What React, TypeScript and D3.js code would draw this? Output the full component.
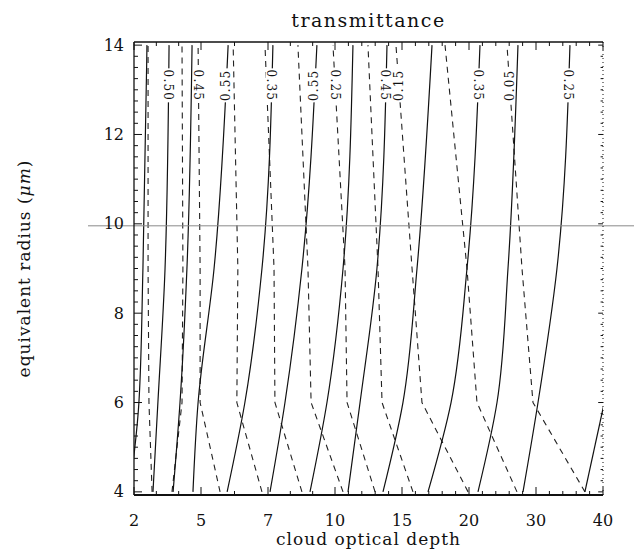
import React, { useEffect, useRef } from 'react';
import * as d3 from 'd3';

const radii = [4, 6, 9, 14];

// cloud optical depth of every solid contour at those radii (null = off the chart)
const solidDepths: (number | null)[][] = [
	[1.8, 2.22, 2.4, 2.58],
	[2.85, 3.07, 3.39, 3.57],
	[3.75, 4.06, 4.37, 4.6],
	[4.64, 4.87, 5.39, 5.81],
	[5.78, 6.31, 6.82, 7.22],
	[7.09, 7.76, 8.52, 9.19],
	[8.88, 9.64, 10.6, 11.34],
	[10.97, 11.87, 13.13, 13.88],
	[13.58, 15.07, 16.12, 17.24],
	[16.94, 18.66, 19.85, 21.64],
	[21.34, 24.18, 25.82, 27.31],
	[28.06, 30.3, 33.13, 35.07],
	[37.3, 40.2, null, null],
];

// same for the dashed contours
const dashedDepths: number[][] = [
	[2.81, 2.67, 2.63, 2.63],
	[3.7, 4.15, 4.19, 4.15],
	[5.57, 4.96, 4.96, 4.87],
	[6.82, 6.07, 6.1, 5.96],
	[8.52, 7.31, 7.27, 6.91],
	[10.6, 8.93, 8.79, 8.34],
	[12.99, 10.9, 10.75, 9.91],
	[15.82, 13.51, 13.21, 12.46],
	[19.93, 16.49, 15.75, 14.55],
	[27.16, 21.19, 19.85, 18.21],
	[37.31, 29.55, 27.91, 25.67],
];

// contour labels near the top
const labelTexts = ['0.50', '0.45', '0.55', '0.35', '0.55', '0.25', '0.45', '0.15', '0.35', '0.05', '0.25'];
const labelStyles = ['solid', 'dashed', 'solid', 'solid', 'solid', 'dashed', 'solid', 'dashed', 'solid', 'dashed', 'solid'];
const labelLines = [1, 2, 3, 4, 5, 6, 7, 8, 9, 10, 11];
const labelTurns = [90, 90, -90, 90, -90, 90, 90, -90, 90, -90, 90];
const labelRadius = 13.1;

const xTicks = [2, 5, 7, 10, 15, 20, 30, 40];
const xMinor = [3, 4, 6, 8, 9, 11, 12, 13, 14, 16, 17, 18, 19, 22, 24, 26, 28, 32, 34, 36, 38];
const yTicks = [4, 6, 8, 10, 12, 14];
const yDomain = [3.93, 14.07];
const markedRadius = 10;

const W = 634;
const H = 550;
const frame = { left: 134, right: 603, top: 42, bottom: 495 };
const serif = '"DejaVu Serif", "Liberation Serif", serif';

const App = () => {
	const ref = useRef<SVGSVGElement>(null);

	useEffect(() => {
		const svg = d3.select(ref.current);
		svg.selectAll('*').remove();

		const step = (frame.right - frame.left) / (xTicks.length - 1);
		const x = d3
			.scaleLinear()
			.domain(xTicks)
			.range(xTicks.map((_, i) => frame.left + i * step));
		const y = d3.scaleLinear().domain(yDomain).range([frame.bottom, frame.top]);

		svg
			.append('clipPath')
			.attr('id', 'plot-clip')
			.append('rect')
			.attr('x', frame.left)
			.attr('y', frame.top)
			.attr('width', frame.right - frame.left)
			.attr('height', frame.bottom - frame.top);

		const line = d3
			.line<[number, number | null]>()
			.defined((d) => d[1] != null)
			.x((d) => x(d[1] as number))
			.y((d) => y(d[0]));

		// solids bend smoothly, so top-down points through a monotone curve
		const smooth = d3
			.line<[number, number | null]>()
			.defined((d) => d[1] != null)
			.curve(d3.curveMonotoneY)
			.x((d) => x(d[1] as number))
			.y((d) => y(d[0]));

		const plot = svg.append('g').attr('clip-path', 'url(#plot-clip)');

		plot
			.selectAll('path.dashed')
			.data(dashedDepths)
			.enter()
			.append('path')
			.attr('class', 'dashed')
			.attr('d', (row) => line(radii.map((r, i) => [r, row[i]])))
			.attr('fill', 'none')
			.attr('stroke', '#222')
			.attr('stroke-width', 1.1)
			.attr('stroke-dasharray', '6,5');

		plot
			.selectAll('path.solid')
			.data(solidDepths)
			.enter()
			.append('path')
			.attr('class', 'solid')
			.attr('d', (row) =>
				smooth(
					radii
						.map((r, i) => [r, row[i]] as [number, number | null])
						.reverse()
				)
			)
			.attr('fill', 'none')
			.attr('stroke', '#111')
			.attr('stroke-width', 1.2);

		// horizontal reference line at 10 um
		svg
			.append('line')
			.attr('x1', 88)
			.attr('x2', W)
			.attr('y1', y(markedRadius) + 2)
			.attr('y2', y(markedRadius) + 2)
			.attr('stroke', '#8a8a8a')
			.attr('stroke-width', 1);

		// contour labels
		const labelX = (i: number) => {
			const row = labelStyles[i] === 'solid' ? solidDepths[labelLines[i]] : dashedDepths[labelLines[i]];
			const x9 = x(row[2] as number);
			const x14 = x(row[3] as number);
			return x9 + ((x14 - x9) * (labelRadius - 9)) / 5;
		};
		const labels = svg
			.selectAll('g.clabel')
			.data(labelTexts)
			.enter()
			.append('g')
			.attr('class', 'clabel')
			.attr('transform', (_, i) => `translate(${labelX(i)},${y(labelRadius)}) rotate(${labelTurns[i]})`);
		labels
			.append('rect')
			.attr('x', -17)
			.attr('y', -5)
			.attr('width', 34)
			.attr('height', 10)
			.attr('fill', '#fff');
		labels
			.append('text')
			.attr('text-anchor', 'middle')
			.attr('dominant-baseline', 'central')
			.attr('font-family', serif)
			.attr('font-size', 12)
			.attr('letter-spacing', 1.2)
			.attr('fill', '#111')
			.text((d) => d);

		// frame
		const axis = svg.append('g').attr('stroke', '#111');
		axis.append('line').attr('x1', frame.left).attr('x2', frame.right).attr('y1', frame.top).attr('y2', frame.top).attr('stroke-width', 1.3);
		axis.append('line').attr('x1', frame.left).attr('x2', frame.right).attr('y1', frame.bottom).attr('y2', frame.bottom).attr('stroke-width', 1.8);
		axis.append('line').attr('x1', frame.left).attr('x2', frame.left).attr('y1', frame.top).attr('y2', frame.bottom).attr('stroke-width', 1.3);
		axis
			.append('line')
			.attr('x1', frame.right)
			.attr('x2', frame.right)
			.attr('y1', frame.top)
			.attr('y2', frame.bottom)
			.attr('stroke-width', 1)
			.attr('stroke-dasharray', '1,3');

		const yMinor = d3.range(4, 14.01, 0.25).filter((v) => !yTicks.includes(v));
		const yAll = [
			...yTicks.map((v) => ({ v, len: 8 })),
			...yMinor.map((v) => ({ v, len: 4 })),
		];
		axis
			.selectAll('line.yl')
			.data(yAll)
			.enter()
			.append('line')
			.attr('class', 'yl')
			.attr('x1', frame.left)
			.attr('x2', (d) => frame.left + d.len)
			.attr('y1', (d) => y(d.v))
			.attr('y2', (d) => y(d.v));
		axis
			.selectAll('line.yr')
			.data(yAll)
			.enter()
			.append('line')
			.attr('class', 'yr')
			.attr('x1', frame.right)
			.attr('x2', (d) => frame.right - d.len * 0.6)
			.attr('y1', (d) => y(d.v))
			.attr('y2', (d) => y(d.v));

		const xAll = [
			...xTicks.map((v) => ({ v, len: 8 })),
			...xMinor.map((v) => ({ v, len: 4 })),
		];
		axis
			.selectAll('line.xt')
			.data(xAll)
			.enter()
			.append('line')
			.attr('class', 'xt')
			.attr('x1', (d) => x(d.v))
			.attr('x2', (d) => x(d.v))
			.attr('y1', frame.top)
			.attr('y2', (d) => frame.top + d.len);
		axis
			.selectAll('line.xb')
			.data(xAll)
			.enter()
			.append('line')
			.attr('class', 'xb')
			.attr('x1', (d) => x(d.v))
			.attr('x2', (d) => x(d.v))
			.attr('y1', frame.bottom)
			.attr('y2', (d) => frame.bottom - d.len);

		const text = svg.append('g').attr('font-family', serif).attr('fill', '#111');
		text
			.selectAll('text.yt')
			.data(yTicks)
			.enter()
			.append('text')
			.attr('class', 'yt')
			.attr('x', frame.left - 10)
			.attr('y', (d) => y(d))
			.attr('text-anchor', 'end')
			.attr('dominant-baseline', 'central')
			.attr('font-size', 16)
			.text((d) => d);
		text
			.selectAll('text.xt')
			.data(xTicks)
			.enter()
			.append('text')
			.attr('class', 'xt')
			.attr('x', (d) => x(d))
			.attr('y', 526)
			.attr('text-anchor', 'middle')
			.attr('font-size', 16)
			.text((d) => d);

		text
			.append('text')
			.attr('x', (frame.left + frame.right) / 2)
			.attr('y', 27)
			.attr('text-anchor', 'middle')
			.attr('font-size', 19)
			.attr('letter-spacing', 1.5)
			.text('transmittance');
		text
			.append('text')
			.attr('x', (frame.left + frame.right) / 2)
			.attr('y', 545)
			.attr('text-anchor', 'middle')
			.attr('font-size', 17)
			.attr('letter-spacing', 1)
			.text('cloud optical depth');
		const yl = text
			.append('text')
			.attr('transform', `translate(30,${(frame.top + frame.bottom) / 2}) rotate(-90)`)
			.attr('text-anchor', 'middle')
			.attr('font-size', 17)
			.attr('letter-spacing', 1);
		yl.append('tspan').text('equivalent radius (');
		yl.append('tspan').attr('font-style', 'italic').text('\u03bcm');
		yl.append('tspan').text(')');
	}, []);

	return (
		<svg
			ref={ref}
			width={W}
			height={H}
			style={{ position: 'absolute', left: 0, top: 0, background: '#fff' }}
		></svg>
	);
};

export default App;
